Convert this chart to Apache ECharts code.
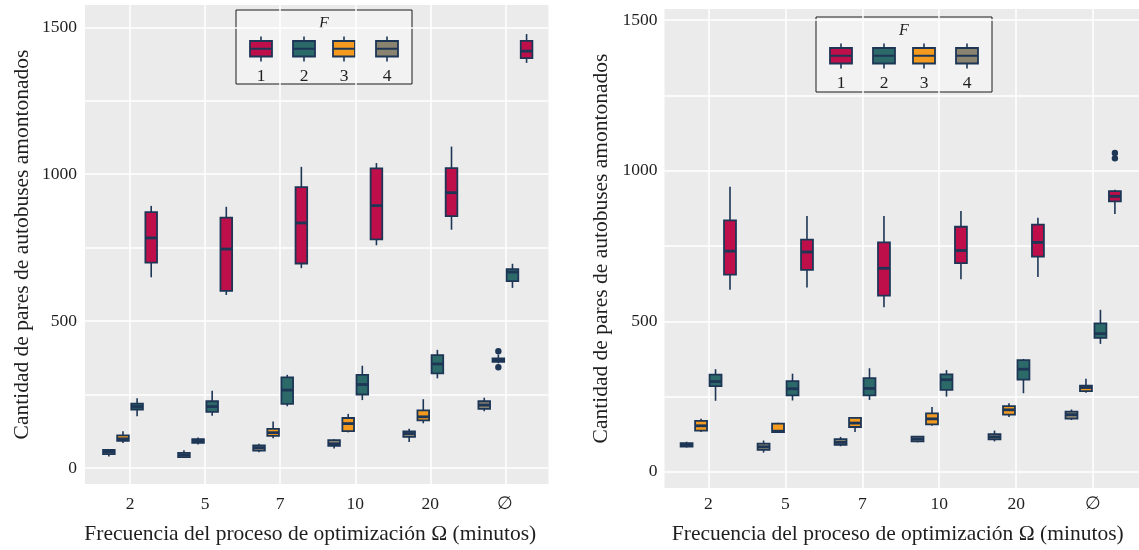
<!DOCTYPE html>
<html>
<head>
<meta charset="utf-8">
<script src="https://cdn.jsdelivr.net/npm/echarts@6/dist/echarts.min.js"></script>
<style>
html,body{margin:0;padding:0;background:#fff;}
#chart{width:1139px;height:550px;}
</style>
</head>
<body>
<div id="chart"></div>
<script>
// ---------------- data ----------------
const categories = ['2', '5', '7', '10', '20', '\u2205'];
const fLabels = ['1', '2', '3', '4'];
const yTicks = [0, 250, 500, 750, 1000, 1250, 1500];
const yLabels = [0, 500, 1000, 1500];
const yAxisTitle = 'Cantidad de pares de autobuses amontonados';
const xAxisTitle = 'Frecuencia del proceso de optimización \u03A9 (minutos)';
const legendTitle = 'F';

// each box: [lower whisker, Q1, median, Q3, upper whisker], one per category
const leftF1 = [[649,699,783,871,892],[589,603,745,852,889],[680,696,834,956,1025],[758,778,893,1020,1038],[811,857,937,1021,1094],[1379,1395,1419,1454,1477]];
const leftF2 = [[176,199,209,219,237],[178,191,209,227,263],[210,218,265,308,317],[231,250,284,317,348],[305,322,354,384,402],[613,636,667,677,695]];
const leftF3 = [[85,92,99,111,125],[80,85,92,98,104],[101,109,120,133,158],[121,125,151,170,184],[152,162,174,196,234],[356,361,367,373,386]];
const leftF4 = [[39,47,55,61,63],[35,37,44,51,60],[53,59,69,77,82],[66,75,82,95,98],[88,106,117,124,133],[193,201,214,227,239]];
// outliers: [category index, F, value]
const leftOutliers = [[5, 3, 397], [5, 3, 343]];

const rightF1 = [[605,655,733,835,947],[612,671,730,771,850],[547,585,676,762,850],[640,693,735,814,866],[647,715,762,821,844],[856,898,915,932,937]];
const rightF2 = [[236,285,300,323,341],[237,254,276,301,326],[239,254,277,311,344],[250,272,306,324,338],[261,306,341,371,375],[425,445,459,493,538]];
const rightF3 = [[132,137,153,169,176],[130,132,135,160,163],[132,149,162,179,182],[153,158,176,194,215],[182,190,206,218,228],[263,268,280,286,309]];
const rightF4 = [[81,84,89,95,100],[64,73,83,94,104],[85,90,98,109,116],[98,101,109,117,119],[101,108,116,125,137],[172,177,190,200,207]];
const rightOutliers = [[5, 1, 1041], [5, 1, 1059]];

// ---------------- style ----------------
const fColors = ['#BE0F4B', '#2B6A69', '#F39A1F', '#8A8370'];
const EDGE = '#1D3656';
const BG = '#EBEBEB';
const FONT = '"Liberation Serif", "Times New Roman", serif';
const TEXT = '#1f1f1f';
const SLOT = 0.188;
const BOXW = 0.155;

const panels = [
  { grid: {left: 85, top: 5, width: 463.5, height: 480.5}, xMin: -0.6, xMax: 5.574, yMin: -54.7, yMax: 1576,
    series: [leftF1, leftF2, leftF3, leftF4], outliers: leftOutliers,
    xLabelMargin: 11, xNameGap: 39, xNamePad: [0, 13, 0, 0], yLabelMargin: 8,
    legend: {x: 236, y: 10, w: 176, h: 74} },
  { grid: {left: 664.5, top: 9, width: 474.5, height: 480.5}, xMin: -0.569, xMax: 5.595, yMin: -53.6, yMax: 1537,
    series: [rightF1, rightF2, rightF3, rightF4], outliers: rightOutliers,
    xLabelMargin: 7, xNameGap: 35, xNamePad: [0, 8, 0, 0], yLabelMargin: 7,
    legend: {x: 816, y: 17, w: 176, h: 75} }
];

function slotOffset(fIdx) { return (1.5 - fIdx) * SLOT; }

function boxSeries(p, fIdx, data) {
  return {
    type: 'custom', name: fLabels[fIdx], xAxisIndex: p, yAxisIndex: p,
    data: data.map((d, i) => [i].concat(d)),
    encode: {x: 0, y: [1, 2, 3, 4, 5]},
    silent: true,
    renderItem: function (params, api) {
      const x = api.value(0) + slotOffset(fIdx);
      const lo = api.coord([x, api.value(1)]);
      const q1 = api.coord([x, api.value(2)]);
      const md = api.coord([x, api.value(3)]);
      const q3 = api.coord([x, api.value(4)]);
      const hi = api.coord([x, api.value(5)]);
      const w = api.size([BOXW, 0])[0];
      return {
        type: 'group',
        children: [
          {type: 'line', shape: {x1: lo[0], y1: lo[1], x2: q1[0], y2: q1[1]}, style: {stroke: EDGE, lineWidth: 1.6}},
          {type: 'line', shape: {x1: q3[0], y1: q3[1], x2: hi[0], y2: hi[1]}, style: {stroke: EDGE, lineWidth: 1.6}},
          {type: 'rect', shape: {x: q1[0] - w / 2, y: q3[1], width: w, height: q1[1] - q3[1]},
            style: {fill: fColors[fIdx], stroke: EDGE, lineWidth: 1.8}},
          {type: 'line', shape: {x1: md[0] - w / 2, y1: md[1], x2: md[0] + w / 2, y2: md[1]},
            style: {stroke: EDGE, lineWidth: 2.8}}
        ]
      };
    }
  };
}

function outlierSeries(p, data) {
  return {
    type: 'custom', xAxisIndex: p, yAxisIndex: p, silent: true,
    data: data,
    encode: {x: 0, y: 2},
    renderItem: function (params, api) {
      const fIdx = api.value(1) - 1;
      const pt = api.coord([api.value(0) + slotOffset(fIdx), api.value(2)]);
      return {type: 'circle', shape: {cx: pt[0], cy: pt[1], r: 3.2}, style: {fill: EDGE}};
    }
  };
}

function legendGraphic(L) {
  const offs = [25, 68, 108, 151];
  const children = [
    {type: 'rect', shape: {x: L.x, y: L.y, width: L.w, height: L.h},
      style: {fill: '#F2F2F2', stroke: '#1a1a1a', lineWidth: 1}},
    {type: 'text', x: L.x + L.w / 2, y: L.y + 14,
      style: {text: legendTitle, font: 'italic 16px ' + FONT, fill: TEXT, align: 'center', verticalAlign: 'middle'}}
  ];
  fLabels.forEach((lab, i) => {
    const cx = L.x + offs[i];
    children.push({type: 'line', shape: {x1: cx, y1: L.y + 26.5, x2: cx, y2: L.y + 51.5}, style: {stroke: EDGE, lineWidth: 1.6}});
    children.push({type: 'rect', shape: {x: cx - 11, y: L.y + 31, width: 22, height: 15.5},
      style: {fill: fColors[i], stroke: EDGE, lineWidth: 1.8}});
    children.push({type: 'line', shape: {x1: cx - 11, y1: L.y + 38.75, x2: cx + 11, y2: L.y + 38.75}, style: {stroke: EDGE, lineWidth: 2}});
    children.push({type: 'text', x: cx, y: L.y + 66,
      style: {text: lab, font: '17.5px ' + FONT, fill: TEXT, align: 'center', verticalAlign: 'middle'}});
  });
  return {type: 'group', z: 100, children: children};
}

const option = {
  backgroundColor: '#fff',
  animation: false,
  grid: panels.map(p => Object.assign({show: true, backgroundColor: BG, borderWidth: 0, containLabel: false}, p.grid)),
  xAxis: panels.map((p, i) => ({
    type: 'value', gridIndex: i, min: p.xMin, max: p.xMax,
    name: xAxisTitle, nameLocation: 'middle', nameGap: p.xNameGap,
    nameTextStyle: {fontFamily: FONT, fontSize: 21.5, color: TEXT, padding: p.xNamePad},
    axisLine: {show: false},
    axisTick: {show: false, customValues: categories.map((c, k) => k)},
    axisLabel: {customValues: categories.map((c, k) => k), formatter: v => categories[Math.round(v)],
      fontFamily: FONT, fontSize: 17.5, color: TEXT, margin: p.xLabelMargin},
    splitLine: {show: true, lineStyle: {color: '#ffffff', width: 1.5}}
  })),
  yAxis: panels.map((p, i) => ({
    type: 'value', gridIndex: i, min: p.yMin, max: p.yMax,
    name: yAxisTitle, nameLocation: 'middle', nameGap: 52,
    nameTextStyle: {fontFamily: FONT, fontSize: 21.5, color: TEXT},
    axisLine: {show: false},
    axisTick: {show: false, customValues: yTicks},
    axisLabel: {customValues: yLabels, formatter: v => String(Math.round(v)),
      fontFamily: FONT, fontSize: 17.5, color: TEXT, margin: p.yLabelMargin},
    splitLine: {show: true, lineStyle: {color: '#ffffff', width: 1.5}}
  })),
  series: [],
  graphic: panels.map(p => legendGraphic(p.legend))
};

panels.forEach((p, i) => {
  p.series.forEach((d, f) => option.series.push(boxSeries(i, f, d)));
  option.series.push(outlierSeries(i, p.outliers));
});

const chart = echarts.init(document.getElementById('chart'), null, {renderer: 'canvas'});
chart.setOption(option);
</script>
</body>
</html>
